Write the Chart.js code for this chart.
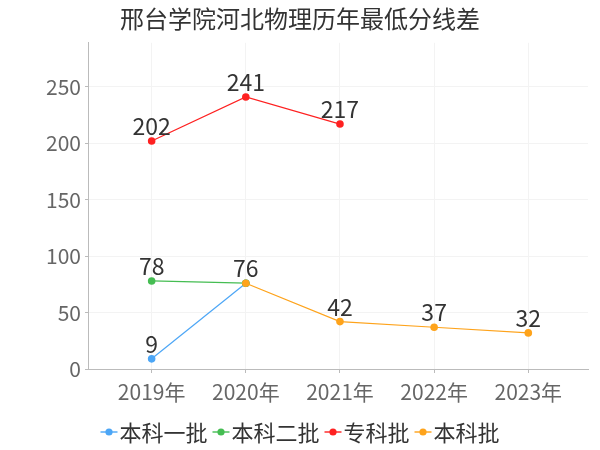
<!DOCTYPE html>
<html><head><meta charset="utf-8">
<script src="https://cdn.jsdelivr.net/npm/chart.js@4/dist/chart.umd.min.js"></script>
<style>html,body{margin:0;padding:0;background:#fff}#wrap{width:600px;height:450px}</style>
</head><body><div id="wrap"><canvas id="c" width="600" height="450"></canvas></div>
<script>
const years = ['2019年','2020年','2021年','2022年','2023年'];
const seriesNames = ['本科一批','本科二批','专科批','本科批'];
const s1 = [9,76,null,null,null];
const s2 = [78,76,null,null,null];
const s3 = [202,241,217,null,null];
const s4 = [null,76,42,37,32];
const yTicks = [0,50,100,150,200,250];
const colors = ['#4ca6f6','#45bd52','#fe2121','#fea31b'];
const FONT = '"Noto Sans CJK SC", "Noto Sans", sans-serif';

function toPts(arr){ return arr.map((v,i)=>v===null?null:{x:i,y:v}).filter(p=>p); }
const all=[s1,s2,s3,s4];
const datasets = all.map((arr,k)=>({
  label: seriesNames[k], data: toPts(arr), borderColor: colors[k], backgroundColor: colors[k],
  borderWidth: 1.2, pointRadius: 3.8, pointHoverRadius: 3.8, pointBorderWidth: 0,
  tension: 0, order: 4-k, pointStyle:'circle'
}));

const valueLabels = {
  id:'valueLabels',
  afterDatasetsDraw(chart){
    const ctx=chart.ctx; ctx.save();
    ctx.font='23px '+FONT; ctx.fillStyle='#333'; ctx.textAlign='center'; ctx.textBaseline='bottom';
    const seen=new Set();
    chart.data.datasets.forEach((ds,i)=>{
      const meta=chart.getDatasetMeta(i);
      meta.data.forEach((pt,j)=>{
        const key=Math.round(pt.x)+','+Math.round(pt.y);
        if(seen.has(key)) return; seen.add(key);
        ctx.fillText(String(ds.data[j].y), pt.x, pt.y-3);
      });
    });
    ctx.restore();
  }
};
const customLegend = {
  id:'customLegend',
  afterDraw(chart){
    const ctx=chart.ctx; ctx.save();
    ctx.font='22px '+FONT; ctx.textBaseline='middle'; ctx.textAlign='left';
    const iconW=17, gapIT=2, gapItem=5, cy=432;
    const widths=chart.data.datasets.map(d=>ctx.measureText(d.label).width);
    let total=widths.reduce((a,b)=>a+b,0)+chart.data.datasets.length*(iconW+gapIT)+(chart.data.datasets.length-1)*gapItem;
    let x=300-total/2;
    chart.data.datasets.forEach((d,i)=>{
      ctx.globalAlpha=0.7; ctx.strokeStyle=d.borderColor; ctx.lineWidth=2;
      ctx.beginPath(); ctx.moveTo(x,cy); ctx.lineTo(x+iconW,cy); ctx.stroke();
      ctx.globalAlpha=1; ctx.fillStyle=d.borderColor;
      ctx.beginPath(); ctx.arc(x+iconW/2,cy,3.6,0,Math.PI*2); ctx.fill();
      x+=iconW+gapIT;
      ctx.fillStyle='#333'; ctx.fillText(d.label,x,cy+1);
      x+=widths[i]+gapItem;
    });
    ctx.restore();
  }
};

new Chart(document.getElementById('c'), {
  type:'line',
  data:{datasets},
  options:{
    responsive:false, animation:false,
    layout:{padding:{left:12,right:12,top:0,bottom:0}},
    plugins:{
      title:{display:true,text:'邢台学院河北物理历年最低分线差',color:'#333',
        font:{family:FONT,size:24,weight:'normal'},padding:{top:4,bottom:10}},
      legend:{display:false},
      tooltip:{enabled:false}
    },
    scales:{
      x:{type:'linear',min:-0.676,max:4.634,
        afterBuildTicks(a){a.ticks=years.map((_,i)=>({value:i}));},
        ticks:{color:'#666',font:{family:FONT,size:21},padding:6,autoSkip:false,maxRotation:0,
          callback:(v)=>years[v]},
        grid:{color:'#f3f3f3',tickColor:'#bbb',tickLength:4,drawTicks:true},
        border:{color:'#bbb'},
        afterFit(s){s.height=81;}
      },
      y:{min:0,max:289,
        afterBuildTicks(a){a.ticks=yTicks.map(v=>({value:v}));},
        ticks:{color:'#666',font:{family:FONT,size:21},padding:4},
        grid:{color:'#f3f3f3',tickColor:'#bbb',tickLength:3},
        border:{color:'#bbb'},
        afterFit(s){s.width=76;}
      }
    }
  },
  plugins:[valueLabels,customLegend]
});
</script></body></html>
